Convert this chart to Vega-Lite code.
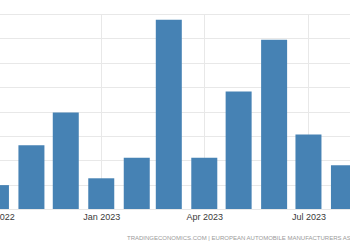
{
  "$schema": "https://vega.github.io/schema/vega-lite/v6.json",
  "width": 380,
  "height": 195,
  "autosize": {"type": "none"},
  "padding": {"left": -30, "right": 0, "top": 14, "bottom": 41},
  "background": "white",
  "config": {"view": {"stroke": null}},
  "title": {
    "text": "TRADINGECONOMICS.COM  |  EUROPEAN AUTOMOBILE MANUFACTURERS ASSOCIATION",
    "orient": "bottom",
    "anchor": "start",
    "frame": "group",
    "dx": 157,
    "offset": 14,
    "fontSize": 6,
    "font": "Liberation Sans",
    "fontWeight": "normal",
    "color": "#9a9a9a"
  },
  "data": {
    "values": [
      {"date": "2022-10-01", "value": 4.9},
      {"date": "2022-11-01", "value": 13.1},
      {"date": "2022-12-01", "value": 19.8},
      {"date": "2023-01-01", "value": 6.3},
      {"date": "2023-02-01", "value": 10.5},
      {"date": "2023-03-01", "value": 38.8},
      {"date": "2023-04-01", "value": 10.5},
      {"date": "2023-05-01", "value": 24.1},
      {"date": "2023-06-01", "value": 34.7},
      {"date": "2023-07-01", "value": 15.3},
      {"date": "2023-08-01", "value": 9.0}
    ]
  },
  "mark": {"type": "bar", "width": 26, "color": "#4682b4"},
  "encoding": {
    "x": {
      "field": "date",
      "type": "temporal",
      "scale": {"type": "utc", "domain": [
        {"year": 2022, "month": 9, "date": 12, "hours": 17, "utc": true},
        {"year": 2023, "month": 8, "date": 1, "hours": 22, "utc": true}
      ]},
      "axis": {
        "title": null,
        "values": [
          {"year": 2022, "month": 10, "date": 1, "utc": true},
          {"year": 2023, "month": 1, "date": 1, "utc": true},
          {"year": 2023, "month": 4, "date": 1, "utc": true},
          {"year": 2023, "month": 7, "date": 1, "utc": true}
        ],
        "labelExpr": "utcFormat(datum.value, '%b %Y')",
        "labelFlush": false,
        "labelOverlap": false,
        "labelFont": "Liberation Sans",
        "labelFontSize": 9,
        "labelColor": "#3a3a3a",
        "labelPadding": 3,
        "ticks": false,
        "domain": false,
        "grid": true,
        "gridColor": "#e8e8e8"
      }
    },
    "y": {
      "field": "value",
      "type": "quantitative",
      "scale": {"domain": [0, 40], "nice": false},
      "axis": {
        "title": null,
        "values": [0, 5, 10, 15, 20, 25, 30, 35, 40],
        "labels": false,
        "ticks": false,
        "domain": false,
        "grid": true,
        "gridColor": "#e8e8e8"
      }
    }
  }
}
